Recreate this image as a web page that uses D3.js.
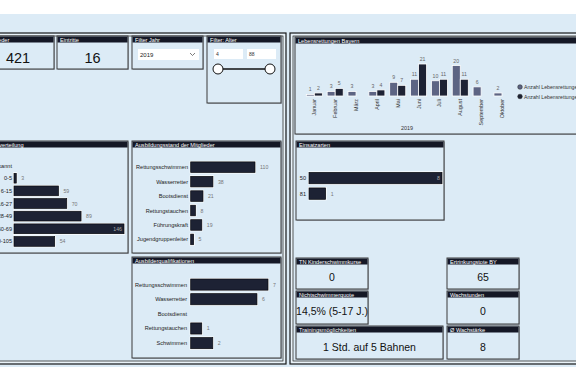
<!DOCTYPE html>
<html><head><meta charset="utf-8">
<script src="https://cdn.jsdelivr.net/npm/d3@7"></script>
<style>body{margin:0;background:#fff;overflow:hidden}svg{display:block;font-family:"Liberation Sans",Arial,sans-serif}</style>
</head><body>
<svg id="c" width="576" height="381"></svg>
<script>
// ---- data ----
const months = ["Januar","Februar","März","April","Mai","Juni","Juli","August","September","Oktober"];
const rescuesA = [1,3,3,3,9,11,10,20,6,2];
const rescuesB = [2,5,null,4,7,21,11,11,null,null];
const legendNames = ["Anzahl Lebensrettungen","Anzahl Lebensrettungen"];
const yearLabel = "2019";

const ageGroups = ["Unbekannt","0-5","6-15","16-27","28-49","50-69","70-105"];
const ageValues = [null,3,59,70,89,146,54];

const trainCats = ["Rettungsschwimmen","Wasserretter","Bootsdienst","Rettungstauchen","Führungskraft","Jugendgruppenleiter"];
const trainValues = [110,38,21,8,19,5];

const instrCats = ["Rettungsschwimmen","Wasserretter","Bootsdienst","Rettungstauchen","Schwimmen"];
const instrValues = [7,6,null,1,2];

const missionCats = ["50","81"];
const missionValues = [8,1];

const kpiTitles = ["Mitglieder","Eintritte","TN Kinderschwimmkurse","Ertrinkungstote BY","Nichtschwimmerquote","Wachstunden","Trainingsmöglichkeiten","Ø Wachstärke"];
const kpiValues = ["421","16","0","65","14,5% (5-17 J.)","0","1 Std. auf 5 Bahnen","8"];

const filterYear = "2019";
const ageRange = [4, 88];

// ---- drawing ----
const svg = d3.select("#c");
const BG = "#dcebf6", HEAD = "#151826", BAR = "#1d2234", BAR2 = "#5d6483";

svg.append("rect").attr("x",0).attr("y",14).attr("width",576).attr("height",353).attr("fill",BG);

function panel(x,y,w,h){
  svg.append("rect").attr("x",x).attr("y",y).attr("width",w).attr("height",h)
    .attr("fill","none").attr("stroke","#1a1a1a").attr("stroke-width",1.2);
  svg.append("rect").attr("x",x+2).attr("y",y+2).attr("width",w-4).attr("height",h-4)
    .attr("fill","none").attr("stroke","#fff").attr("stroke-width",0.8);
  svg.append("rect").attr("x",x+3).attr("y",y+3).attr("width",w-6).attr("height",h-6)
    .attr("fill","none").attr("stroke","#333").attr("stroke-width",0.8);
}
panel(-10,33,296,331);
panel(290,33,300,331);

function card(x,y,w,h,title){
  const g = svg.append("g");
  g.append("rect").attr("x",x+0.8).attr("y",y+0.8).attr("width",w).attr("height",h).attr("fill","#9aa3ad");
  g.append("rect").attr("x",x).attr("y",y).attr("width",w).attr("height",h)
    .attr("fill",BG).attr("stroke","#3a3a3a").attr("stroke-width",1);
  g.append("rect").attr("x",x+0.5).attr("y",y+0.5).attr("width",w-1).attr("height",6).attr("fill",HEAD);
  g.append("text").attr("x",x+3).attr("y",y+5.6).attr("font-size",5.6).attr("fill","#fff").text(title);
  return g;
}

function kpi(x,y,w,h,i,fs,vy){
  const g = card(x,y,w,h,kpiTitles[i]);
  g.append("text").attr("x",x+w/2).attr("y",y+vy).attr("text-anchor","middle")
    .attr("font-size",fs).attr("fill","#111").text(kpiValues[i]);
}
kpi(-18,36,72,33,0,14.5,27);
kpi(57,36,71,33,1,14.5,27);
kpi(296,258,72,31,2,10.5,23);
kpi(447,258,72,31,3,10.5,23);
kpi(296,291,72,33,4,10.5,24);
kpi(447,291,72,33,5,10.5,24);
kpi(296,326,147,33,6,10.5,25);
kpi(447,326,72,33,7,10.5,25);

// Filter Jahr
{
  const g = card(132,36,71,33,"Filter Jahr");
  g.append("rect").attr("x",138).attr("y",49).attr("width",61).attr("height",11).attr("fill","#fff");
  g.append("text").attr("x",140).attr("y",57).attr("font-size",6).attr("fill","#222").text(filterYear);
  g.append("path").attr("d","M190,53 l2.5,2.5 l2.5,-2.5").attr("fill","none").attr("stroke","#444").attr("stroke-width",0.7);
}
// Filter Alter
{
  const g = card(207,36,74,67,"Filter: Alter");
  g.append("rect").attr("x",214).attr("y",49).attr("width",29).attr("height",10).attr("fill","#fff");
  g.append("rect").attr("x",247).attr("y",49).attr("width",29).attr("height",10).attr("fill","#fff");
  g.append("text").attr("x",216).attr("y",56).attr("font-size",5).attr("fill","#333").text(ageRange[0]);
  g.append("text").attr("x",249).attr("y",56).attr("font-size",5).attr("fill","#333").text(ageRange[1]);
  const sx = d3.scaleLinear().domain(ageRange).range([218,270]);
  g.append("line").attr("x1",sx(ageRange[0])).attr("x2",sx(ageRange[1])).attr("y1",69).attr("y2",69)
    .attr("stroke","#111").attr("stroke-width",1.5);
  ageRange.forEach(v=>g.append("circle").attr("cx",sx(v)).attr("cy",69).attr("r",5)
    .attr("fill","#fff").attr("stroke","#111").attr("stroke-width",1));
}

// generic horizontal bar chart
function hbar(cats,vals,x0,x1,max,y0,y1,pad,labelX,opts={}){
  const y = d3.scaleBand().domain(cats).range([y0,y1]).padding(pad);
  const x = d3.scaleLinear().domain([0,max]).range([x0,x1]);
  const g = svg.append("g");
  g.selectAll("text.c").data(cats).join("text")
    .attr("x",labelX).attr("y",d=>y(d)+y.bandwidth()/2+2)
    .attr("text-anchor","end").attr("font-size",opts.fs||5.6).attr("fill","#222").text(d=>d);
  const data = cats.map((c,i)=>({c,v:vals[i]})).filter(d=>d.v!=null);
  g.selectAll("rect.h").data(data).join("rect")
    .attr("x",x(0)-1).attr("y",d=>y(d.c)-1).attr("width",d=>x(d.v)-x(0)+2).attr("height",y.bandwidth()+2)
    .attr("fill","#fff");
  g.selectAll("rect.b").data(data).join("rect")
    .attr("x",x(0)).attr("y",d=>y(d.c)).attr("width",d=>x(d.v)-x(0)).attr("height",y.bandwidth())
    .attr("fill",BAR).attr("stroke","#07090f").attr("stroke-width",0.7);
  g.selectAll("text.v").data(data).join("text")
    .attr("x",d=> (opts.inside && d.v===max) ? x(d.v)-2 : x(d.v)+5)
    .attr("y",d=>y(d.c)+y.bandwidth()/2+2)
    .attr("text-anchor",d=> (opts.inside && d.v===max) ? "end" : "start")
    .attr("font-size",5.2).attr("fill",d=> (opts.inside && d.v===max) ? "#aaa" : "#777").text(d=>d.v);
}

card(-18,141,146,112,"Altersverteilung");
hbar(ageGroups,ageValues,14,124,d3.max(ageValues),157.8,249.2,0.23,12,{inside:true});

card(132,141,149,112,"Ausbildungsstand der Mitglieder");
hbar(trainCats,trainValues,190.7,255,d3.max(trainValues),158,248.6,0.27,188);

card(132,257,149,101,"Ausbilderqualifikationen");
hbar(instrCats,instrValues,190.7,268,d3.max(instrValues),275.5,352.2,0.24,187);

card(296,141,148,79,"Einsatzarten");
hbar(missionCats,missionValues,309,442,d3.max(missionValues),168.2,203.5,0.27,306,{inside:true});

// Lebensrettungen Bayern grouped bars
{
  card(295,37,300,97,"Lebensrettungen Bayern");
  const x = d3.scaleBand().domain(months).range([303.9,512.4]).paddingInner(0.23).paddingOuter(0.115);
  const xs = d3.scaleBand().domain([0,1]).range([0,x.bandwidth()]);
  const y = d3.scaleLinear().domain([0,21]).range([96,64]);
  const series = [rescuesA,rescuesB], cols=[BAR2,BAR];
  const g = svg.append("g");
  series.forEach((s,si)=>{
    const data = months.map((m,i)=>({m,v:s[i]})).filter(d=>d.v!=null);
    g.selectAll(null).data(data).join("rect")
      .attr("x",d=>x(d.m)+xs(si)).attr("y",d=>y(d.v)).attr("width",xs.bandwidth()).attr("height",d=>y(0)-y(d.v))
      .attr("fill",cols[si]).attr("stroke","#fff").attr("stroke-width",0.8);
    g.selectAll(null).data(data).join("text")
      .attr("x",d=>x(d.m)+xs(si)+xs.bandwidth()/2).attr("y",d=>y(d.v)-3)
      .attr("text-anchor","middle").attr("font-size",5.2).attr("fill","#666").text(d=>d.v);
  });
  g.selectAll(null).data(months).join("text")
    .attr("transform",d=>`translate(${x(d)+x.bandwidth()/2+2},99) rotate(-90)`)
    .attr("text-anchor","end").attr("font-size",5.4).attr("fill","#333").text(d=>d);
  g.append("text").attr("x",407).attr("y",130).attr("text-anchor","middle").attr("font-size",5.4).attr("fill","#333").text(yearLabel);
  legendNames.forEach((n,i)=>{
    g.append("circle").attr("cx",520).attr("cy",87+i*9.5).attr("r",2.3).attr("fill",cols[i]).attr("stroke","#222").attr("stroke-width",0.5);
    g.append("text").attr("x",524).attr("y",89+i*9.5).attr("font-size",5.2).attr("fill","#333").text(n);
  });
}
</script>
</body></html>
